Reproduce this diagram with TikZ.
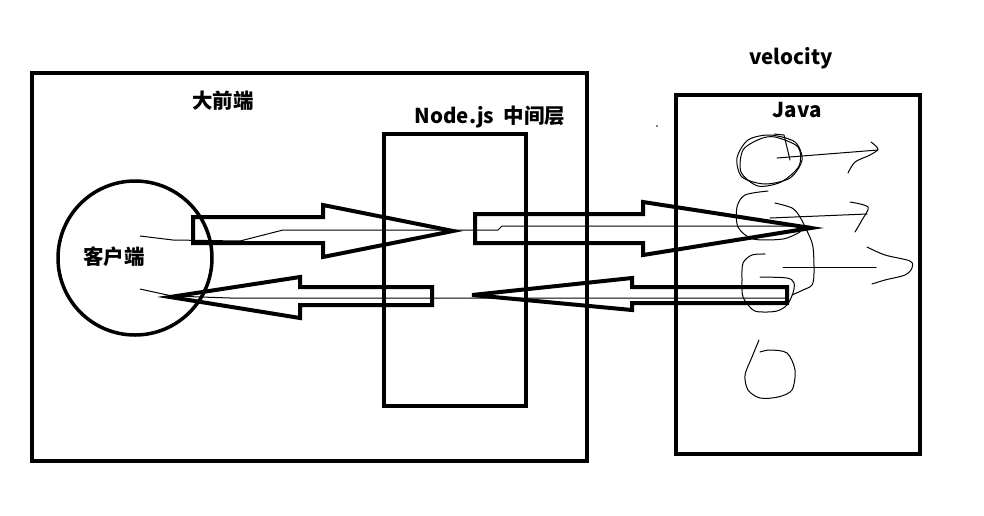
\documentclass[tikz,border=0pt]{standalone}
\usepackage{fontspec}
\setmainfont{Noto Sans CJK SC}
\usetikzlibrary{positioning}

\begin{document}
\begin{tikzpicture}[
  x=1pt, y=-1pt,
  frame/.style={rectangle, draw, line width=4pt, inner sep=0pt},
  txt/.style={font=\bfseries\fontsize{20.5}{24}\selectfont, inner sep=0pt},
  fat/.style={draw, line width=4pt, line join=miter},
  thin/.style={draw, line width=1pt, line join=round},
  scribble/.style={draw, line width=1pt, line cap=round, line join=round}
]
\useasboundingbox (0,0) rectangle (984,515);

\node[frame, minimum width=555pt, minimum height=388pt] (front) at (309.5,267) {};
\node[frame, minimum width=142pt, minimum height=272pt] (node) at (455,270) {};
\node[frame, minimum width=244pt, minimum height=359pt] (java) at (798,274.5) {};
\node[circle, draw, line width=3.5pt, minimum size=154pt, inner sep=0pt] (client) at (135,258) {};

\node[txt] (frontlbl) at (223,101) {大前端};
\node[txt] (nodelbl) at (490,117) {Node.js\ \ 中间层};
\node[txt] (vel) at (791,58) {velocity};
\node[txt] (javalbl) at (797,110) {Java};
\node[txt] (clientlbl) at (114,257) {客户端};

\path[thin] (140,236) -- (173,240) -- (240,241) -- (283,230) -- (498,230) -- (502,226) -- (810,226);
\path[thin] (140,289) -- (172,296) -- (230,298) -- (785,298);

\path[fat] (193,217) -- (323,217) -- (323,205) -- (453,231) -- (323,257) -- (323,243) -- (193,243) -- cycle;
\path[fat] (475,214) -- (643,214) -- (643,202) -- (811,228) -- (643,255) -- (643,243) -- (475,243) -- cycle;
\path[fat] (472,295) -- (632,278) -- (632,287) -- (787,287) -- (787,303) -- (632,303) -- (632,310) -- cycle;
\path[fat] (170,297) -- (300,277) -- (300,287) -- (432,287) -- (432,305) -- (300,305) -- (300,318) -- cycle;

\path[scribble] plot[smooth cycle] coordinates {(770,135) (795,142) (802,160) (790,178) (765,184) (742,177) (737,158) (748,140)};
\path[scribble] plot[smooth cycle] coordinates {(775,137) (798,147) (799,166) (781,182) (758,186) (741,172) (743,150) (760,139)};
\path[scribble] (774,134) -- (784,135) -- (790,160);
\path[scribble] plot[smooth] coordinates {(768,191) (745,195) (737,207) (738,227) (753,239) (783,239) (800,232)};
\path[scribble] plot[smooth] coordinates {(775,203) (792,208) (800,217) (808,233) (813,247) (814,273) (812,285) (803,290) (792,295)};
\path[scribble] plot[smooth] coordinates {(765,254) (752,255) (743,263) (742,280) (743,297) (753,310) (763,312) (777,311) (787,305) (793,293) (794,283) (787,278) (760,277)};
\path[scribble] plot[smooth] coordinates {(759,340) (752,357) (745,375) (748,390) (760,398) (778,397) (792,390) (795,370) (787,353) (770,350) (760,352)};

\path[scribble] (777,158) -- (878,150);
\path[scribble] plot[smooth] coordinates {(871,142) (878,149) (870,155) (855,162) (848,173)};
\path[scribble] (770,218) -- (867,214);
\path[scribble] plot[smooth] coordinates {(850,202) (868,207) (862,220) (855,232)};
\path[scribble] (783,267) -- (876,267);
\path[scribble] plot[smooth] coordinates {(867,247) (885,255) (910,261) (912,268) (905,275) (885,280) (872,284)};

\fill (657,126) circle (0.8);
\end{tikzpicture}
\end{document}
